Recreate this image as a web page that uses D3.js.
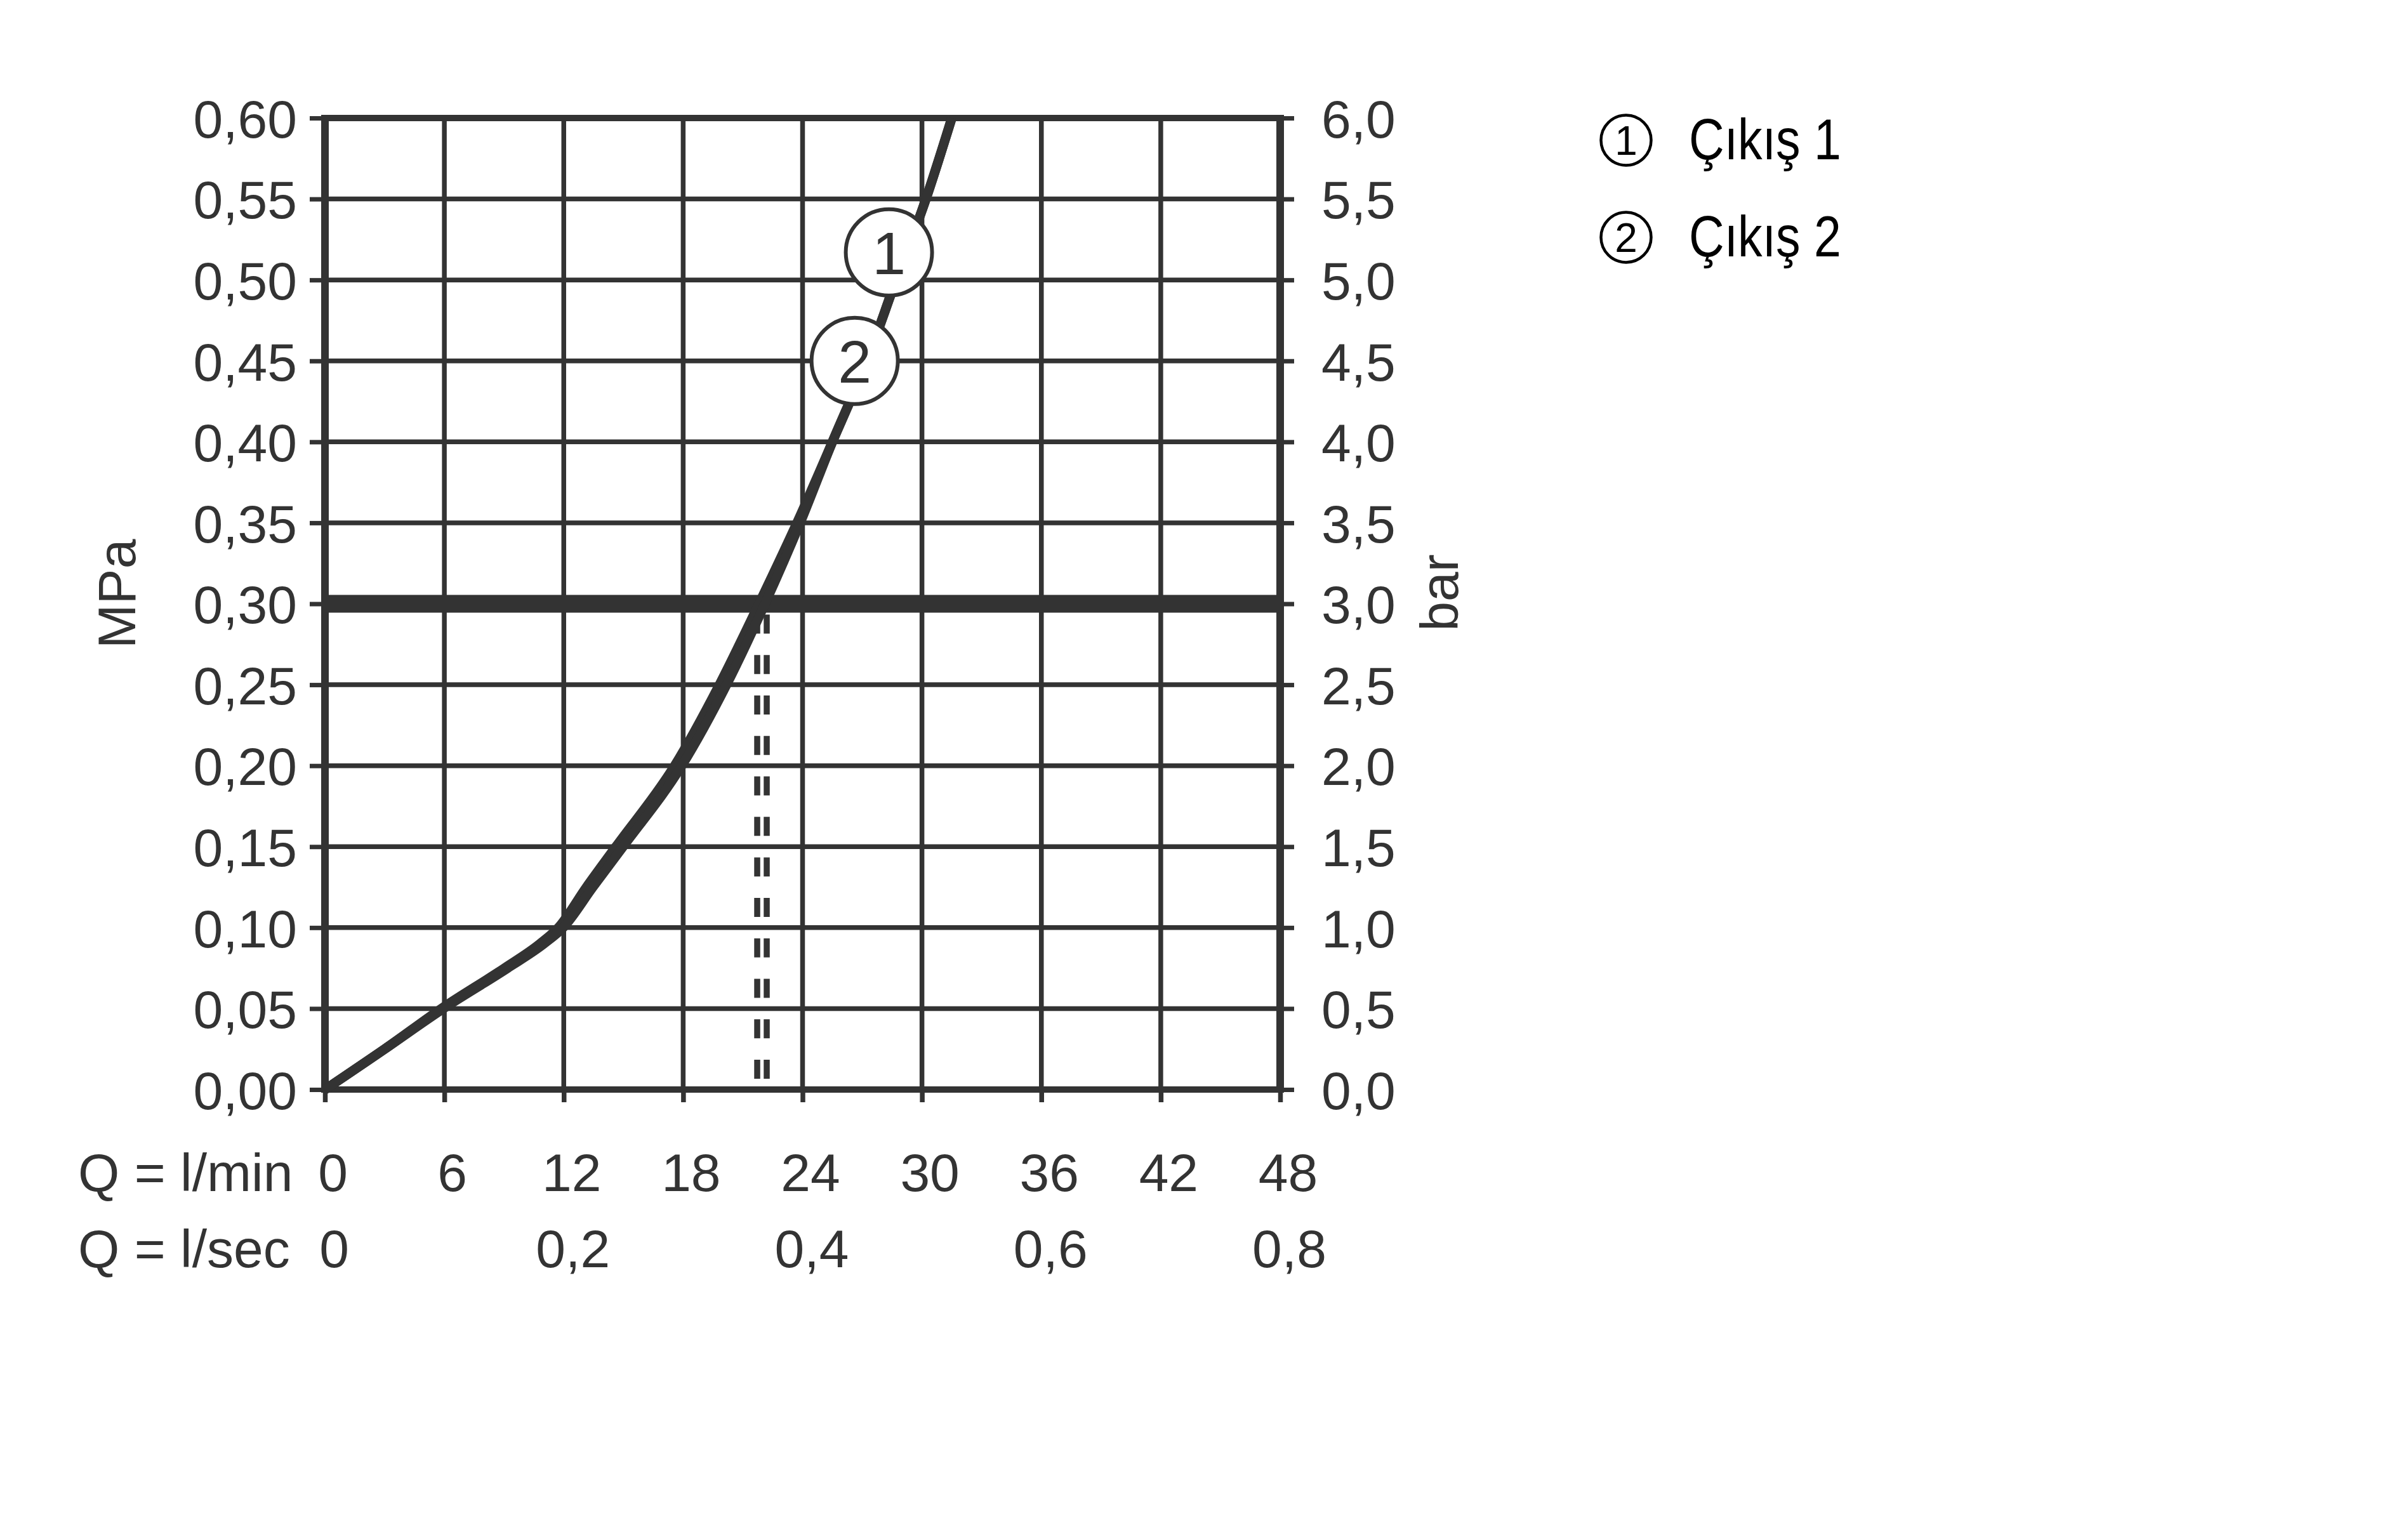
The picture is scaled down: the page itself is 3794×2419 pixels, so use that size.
<!DOCTYPE html>
<html>
<head>
<meta charset="utf-8">
<script src="https://cdn.jsdelivr.net/npm/d3@7"></script>
<style>
  html, body { margin: 0; padding: 0; background: #ffffff; }
  svg { display: block; }
</style>
</head>
<body>
<svg id="chart" width="3794" height="2419"></svg>
<script>
// ---------- data ----------
const flowTicks  = [0, 6, 12, 18, 24, 30, 36, 42, 48];
const flowLabels = ["0", "6", "12", "18", "24", "30", "36", "42", "48"];
const secTicks   = [0, 12, 24, 36, 48];
const secLabels  = ["0", "0,2", "0,4", "0,6", "0,8"];
const mpaTicks   = [0, 0.05, 0.10, 0.15, 0.20, 0.25, 0.30, 0.35, 0.40, 0.45, 0.50, 0.55, 0.60];
const mpaLabels  = ["0,00", "0,05", "0,10", "0,15", "0,20", "0,25", "0,30", "0,35", "0,40", "0,45", "0,50", "0,55", "0,60"];
const barLabels  = ["0,0", "0,5", "1,0", "1,5", "2,0", "2,5", "3,0", "3,5", "4,0", "4,5", "5,0", "5,5", "6,0"];

// pressure (MPa) and flow (l/min)
const pressure    = [0, 0.025, 0.05, 0.075, 0.09, 0.10, 0.125, 0.15, 0.20, 0.25, 0.30, 0.35, 0.40, 0.45, 0.50, 0.55, 0.60];
const outlet1Flow = [0, 3.0, 5.85, 9.02, 10.8, 11.73, 13.14, 14.62, 17.57, 19.82, 21.81, 23.72, 25.5, 27.23, 28.7, 30.2, 31.5];
const outlet2Flow = [0, 3.0, 5.95, 9.18, 11.0, 11.97, 13.46, 14.98, 17.93, 20.18, 22.11, 23.88, 25.5, 27.23, 28.7, 30.2, 31.5];

const ratedPressure = 0.30;
const ratedFlow = 21.96;

const markerLabels   = ["1", "2"];
const markerFlow     = [28.34, 26.62];
const markerPressure = [0.517, 0.450];

const legendLabels = ["Çıkış 1", "Çıkış 2"];

// ---------- drawing ----------
const ink = "#333333";
const font = "'Liberation Sans', Arial, sans-serif";
const svg = d3.select("#chart");
svg.append("rect").attr("width", 3794).attr("height", 2419).attr("fill", "#ffffff");

const x = d3.scaleLinear().domain([0, 48]).range([512, 2017]);
const y = d3.scaleLinear().domain([0, 0.6]).range([1717, 186]);

const g = svg.append("g");

// grid - horizontal
g.selectAll("line.hgrid")
  .data(mpaTicks.filter(d => d > 0 && d < 0.6))
  .join("line")
  .attr("x1", x(0)).attr("x2", x(48))
  .attr("y1", d => y(d)).attr("y2", d => y(d))
  .attr("stroke", ink).attr("stroke-width", 7.5);

// grid - vertical
g.selectAll("line.vgrid")
  .data(flowTicks.filter(d => d > 0 && d < 48))
  .join("line")
  .attr("x1", d => x(d)).attr("x2", d => x(d))
  .attr("y1", y(0)).attr("y2", y(0.6))
  .attr("stroke", ink).attr("stroke-width", 7.5);

// left axis (ticks + labels)
const leftAxis = d3.axisLeft(y).tickValues(mpaTicks)
  .tickFormat((d, i) => mpaLabels[i]).tickSize(24).tickPadding(20);
const gl = g.append("g").attr("transform", `translate(${x(0)},0)`).call(leftAxis);
gl.select(".domain").remove();
gl.selectAll(".tick line").attr("stroke", ink).attr("stroke-width", 7);
gl.selectAll(".tick text").attr("fill", ink).attr("font-family", font)
  .attr("font-size", 84).attr("dy", "0.36em");

// right axis
const rightAxis = d3.axisRight(y).tickValues(mpaTicks)
  .tickFormat((d, i) => barLabels[i]).tickSize(22).tickPadding(43);
const gr = g.append("g").attr("transform", `translate(${x(48)},0)`).call(rightAxis);
gr.select(".domain").remove();
gr.selectAll(".tick line").attr("stroke", ink).attr("stroke-width", 7);
gr.selectAll(".tick text").attr("fill", ink).attr("font-family", font)
  .attr("font-size", 84).attr("dy", "0.36em");

// bottom axis row 1 (l/min)
const bottomAxis = d3.axisBottom(x).tickValues(flowTicks)
  .tickFormat((d, i) => flowLabels[i]).tickSize(20).tickPadding(80);
const gb = g.append("g").attr("transform", `translate(0,${y(0)})`).call(bottomAxis);
gb.select(".domain").remove();
gb.selectAll(".tick line").attr("stroke", ink).attr("stroke-width", 7.5);
gb.selectAll(".tick text").attr("fill", ink).attr("font-family", font)
  .attr("font-size", 84).attr("x", 12);

// bottom axis row 2 (l/sec)
const secAxis = d3.axisBottom(x).tickValues(secTicks)
  .tickFormat((d, i) => secLabels[i]).tickSize(0).tickPadding(220);
const gs = g.append("g").attr("transform", `translate(0,${y(0)})`).call(secAxis);
gs.select(".domain").remove();
gs.selectAll(".tick line").remove();
gs.selectAll(".tick text").attr("fill", ink).attr("font-family", font)
  .attr("font-size", 84).attr("x", 14);

// frame
g.append("line").attr("x1", x(0) - 6).attr("x2", x(48) + 6)
  .attr("y1", y(0.6)).attr("y2", y(0.6)).attr("stroke", ink).attr("stroke-width", 10);
g.append("line").attr("x1", x(0) - 6).attr("x2", x(48) + 6)
  .attr("y1", y(0)).attr("y2", y(0)).attr("stroke", ink).attr("stroke-width", 10);
g.append("line").attr("x1", x(0)).attr("x2", x(0))
  .attr("y1", y(0.6) - 5).attr("y2", y(0) + 5).attr("stroke", ink).attr("stroke-width", 12);
g.append("line").attr("x1", x(48)).attr("x2", x(48))
  .attr("y1", y(0.6) - 5).attr("y2", y(0) + 5).attr("stroke", ink).attr("stroke-width", 12);

// rated flow dashed double line
const step = y(0) - y(0.025);
[-7.5, 7.5].forEach(off => {
  g.append("line")
    .attr("x1", x(ratedFlow) + off).attr("x2", x(ratedFlow) + off)
    .attr("y1", y(ratedPressure)).attr("y2", y(0))
    .attr("stroke", ink).attr("stroke-width", 9.5)
    .attr("stroke-dasharray", `30 ${step - 30}`)
    .attr("stroke-dashoffset", step - (step / 2 - 15));
});

// rated pressure thick line
g.append("line").attr("x1", x(0)).attr("x2", x(48))
  .attr("y1", y(ratedPressure)).attr("y2", y(ratedPressure))
  .attr("stroke", ink).attr("stroke-width", 28);

// curves
const line = d3.line().curve(d3.curveMonotoneX).x(d => x(d[0])).y(d => y(d[1]));
[outlet1Flow, outlet2Flow].forEach(flow => {
  g.append("path")
    .datum(flow.map((q, i) => [q, pressure[i]]))
    .attr("d", line)
    .attr("fill", "none").attr("stroke", ink).attr("stroke-width", 15)
    .attr("stroke-linejoin", "round").attr("stroke-linecap", "butt");
});

// curve markers
markerLabels.forEach((lab, i) => {
  const cx = x(markerFlow[i]), cy = y(markerPressure[i]);
  g.append("circle").attr("cx", cx).attr("cy", cy).attr("r", 68)
    .attr("fill", "#ffffff").attr("stroke", ink).attr("stroke-width", 6);
  g.append("text").attr("x", cx).attr("y", cy + 34)
    .attr("text-anchor", "middle").attr("font-family", font).attr("font-size", 95)
    .attr("fill", ink).text(lab);
});

// axis titles
g.append("text").attr("x", 123).attr("y", 1877).attr("font-family", font)
  .attr("font-size", 84).attr("fill", ink).text("Q = l/min");
g.append("text").attr("x", 123).attr("y", 1997).attr("font-family", font)
  .attr("font-size", 84).attr("fill", ink).text("Q = l/sec");
g.append("text").attr("transform", "translate(213,936) rotate(-90)")
  .attr("text-anchor", "middle").attr("font-family", font)
  .attr("font-size", 84).attr("fill", ink).text("MPa");
g.append("text").attr("transform", "translate(2297,934) rotate(-90)")
  .attr("text-anchor", "middle").attr("font-family", font)
  .attr("font-size", 84).attr("fill", ink).text("bar");

// legend
const legend = svg.append("g");
legendLabels.forEach((lab, i) => {
  const cy = 221 + i * 153;
  legend.append("circle").attr("cx", 2562).attr("cy", cy).attr("r", 39.5)
    .attr("fill", "none").attr("stroke", "#000").attr("stroke-width", 4.5);
  legend.append("text").attr("x", 2562).attr("y", cy + 23)
    .attr("text-anchor", "middle").attr("font-family", font).attr("font-size", 64)
    .attr("fill", "#000").text(markerLabels[i]);
  legend.append("text").attr("x", 2661).attr("y", cy + 30)
    .attr("font-family", font)
    .attr("font-size", 91).attr("fill", "#000")
    .attr("textLength", 240).attr("lengthAdjust", "spacingAndGlyphs")
    .text(lab);
});
</script>
</body>
</html>
